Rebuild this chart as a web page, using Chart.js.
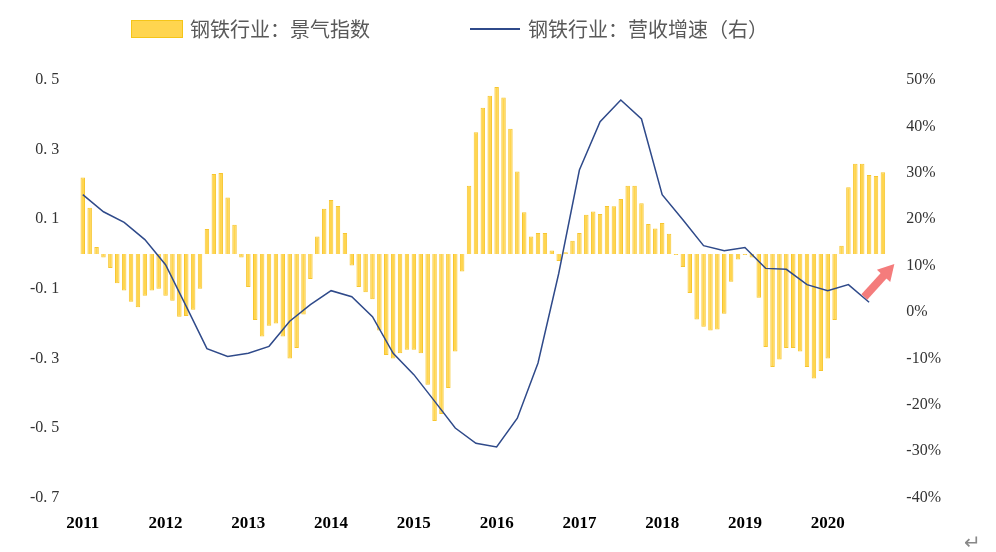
<!DOCTYPE html>
<html><head><meta charset="utf-8">
<script src="https://cdn.jsdelivr.net/npm/chart.js@4"></script>
<style>
body{margin:0;background:#fff;width:996px;height:552px;overflow:hidden;font-family:"Noto Sans CJK SC",sans-serif}
#wrap{position:absolute;left:0;top:0;width:996px;height:552px}
.lg{position:absolute;top:14px;font-size:20px;color:#595959;display:flex;align-items:center;white-space:nowrap}
.box{width:50px;height:16px;background:#FFD54F;border:1px solid #F5C518;margin-right:7px}
.ln{width:50px;height:0;border-top:2px solid #2F4A8A;margin-right:8px}
#ret{position:absolute;left:964px;top:526px;font-size:20px;color:#888}
</style></head><body>
<div id="wrap"><canvas id="c" width="996" height="552"></canvas></div>
<div class="lg" style="left:131px"><div class="box"></div>钢铁行业：景气指数</div>
<div class="lg" style="left:470px"><div class="ln"></div>钢铁行业：营收增速（右）</div>
<div id="ret">↵</div>
<script>
const years=[2011,2012,2013,2014,2015,2016,2017,2018,2019,2020];
const barValues=[0.22,0.133,0.02,-0.01,-0.04,-0.084,-0.105,-0.137,-0.153,-0.12,-0.105,-0.1,
-0.12,-0.134,-0.18,-0.178,-0.16,-0.1,0.072,0.23,0.233,0.162,0.084,-0.01,
-0.095,-0.19,-0.237,-0.206,-0.2,-0.237,-0.3,-0.27,-0.174,-0.072,0.05,0.13,
0.155,0.138,0.06,-0.033,-0.095,-0.11,-0.13,-0.22,-0.29,-0.3,-0.285,-0.275,
-0.275,-0.285,-0.376,-0.48,-0.46,-0.385,-0.28,-0.05,0.196,0.35,0.42,0.455,
0.48,0.45,0.36,0.237,0.12,0.05,0.06,0.06,0.01,-0.02,0.005,0.038,
0.06,0.113,0.122,0.115,0.138,0.137,0.158,0.196,0.196,0.146,0.086,0.073,
0.089,0.058,-0.003,-0.037,-0.112,-0.188,-0.209,-0.22,-0.217,-0.172,-0.08,-0.016,
-0.003,-0.01,-0.126,-0.267,-0.325,-0.303,-0.27,-0.27,-0.28,-0.325,-0.358,-0.336,
-0.3,-0.19,0.024,0.192,0.259,0.259,0.227,0.224,0.235];
const lineQuarterly=[25.3,21.6,19.3,15.6,10.2,1.2,-7.9,-9.6,-8.9,-7.4,-2,1.6,4.6,3.3,-1,-8.9,-13.5,-19.2,-25,-28.3,-29.1,-22.9,-11,8.3,30.6,41,45.7,41.6,25.3,19.9,14.3,13.2,13.9,9.4,9.2,5.9,4.6,5.9,2.1];
const labels=barValues.map((v,i)=>(i%12===0)?String(years[0]+i/12):'');
const lineData=barValues.map(()=>null);
lineQuarterly.forEach((v,k)=>{lineData[k*3]=v;});
const arrow={id:'arrow',afterDatasetsDraw(ch){const a=ch.chartArea,c=ch.ctx;
 const x0=a.right-22,y0=a.top+217,x1=a.right+8,y1=a.top+184;
 const ang=Math.atan2(y1-y0,x1-x0);c.save();c.strokeStyle='#F47C7C';c.fillStyle='#F47C7C';c.lineWidth=8;
 c.beginPath();c.moveTo(x0,y0);c.lineTo(x1-10*Math.cos(ang),y1-10*Math.sin(ang));c.stroke();
 c.beginPath();c.moveTo(x1,y1);c.lineTo(x1-16*Math.cos(ang)+9*Math.sin(ang),y1-16*Math.sin(ang)-9*Math.cos(ang));
 c.lineTo(x1-16*Math.cos(ang)-9*Math.sin(ang),y1-16*Math.sin(ang)+9*Math.cos(ang));c.closePath();c.fill();c.restore();}};
new Chart(document.getElementById('c'),{
 data:{labels,datasets:[
  {type:'line',data:lineData,yAxisID:'y2',borderColor:'#2F4A8A',borderWidth:1.5,pointRadius:0,spanGaps:true,tension:0,order:0},
  {type:'bar',data:barValues,yAxisID:'y',backgroundColor:'#FFD54F',borderColor:'#F7C62F',borderWidth:1,barPercentage:0.65,categoryPercentage:1,order:1}
 ]},
 options:{responsive:false,animation:false,
  layout:{padding:{left:10,right:43,top:80,bottom:10}},
  plugins:{legend:{display:false},tooltip:{enabled:false}},
  scales:{
   x:{grid:{display:false},border:{display:false},ticks:{autoSkip:false,maxRotation:0,color:'#000',font:{family:'Liberation Serif',size:17,weight:'bold'},padding:8,callback:(v,i)=>labels[i]}},
   y:{min:-0.7,max:0.5,ticks:{stepSize:0.2,color:'#333',font:{family:'Liberation Serif',size:16},padding:20,callback:v=>v.toFixed(1).replace('.','. ')},
      border:{display:false},grid:{drawTicks:false,color:c=>Math.abs(c.tick.value-0.0)<1e-9?'#D9D9D9':'transparent',lineWidth:1.5}},
   y2:{position:'right',min:-40,max:50,ticks:{stepSize:10,color:'#333',font:{family:'Liberation Serif',size:16},padding:12,callback:v=>v+'%'},border:{display:false},grid:{display:false}}
  }}
 ,plugins:[arrow]});
</script></body></html>
